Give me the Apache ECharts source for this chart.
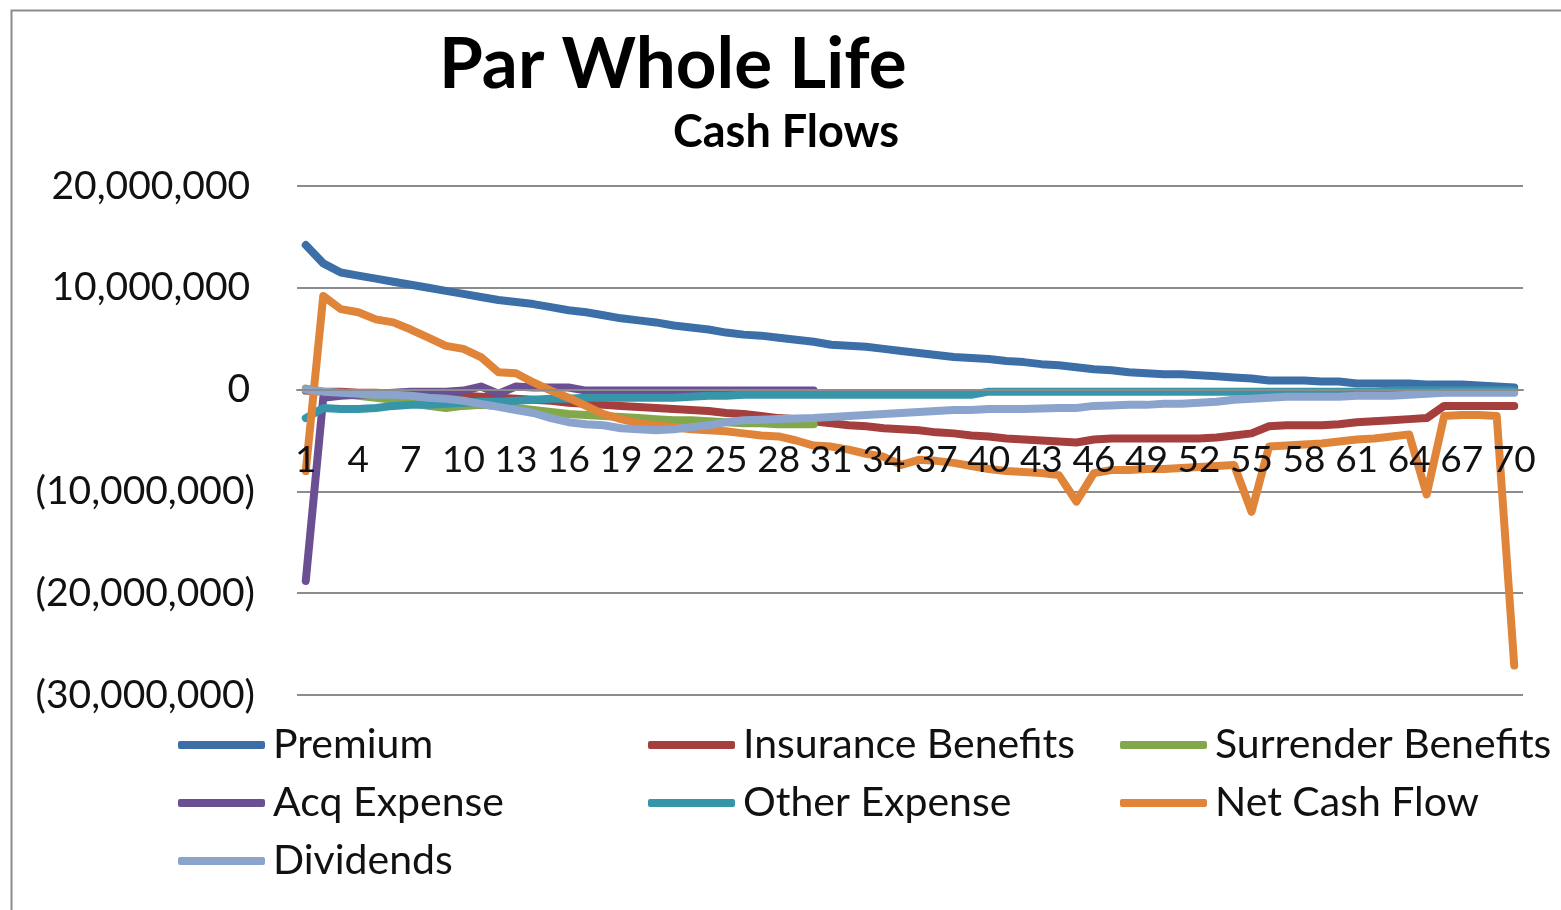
<!DOCTYPE html>
<html>
<head>
<meta charset="utf-8">
<script src="https://cdn.jsdelivr.net/npm/echarts@6/dist/echarts.min.js"></script>
<style>
html,body{margin:0;padding:0;background:#fff;}
#chart{width:1561px;height:910px;}
</style>
</head>
<body>
<div id="chart"></div>
<script>
// Values in millions
const categories = Array.from({length: 70}, (_, i) => String(i + 1));
const premium = [14.2,12.4,11.5,11.2,10.9,10.6,10.3,10.0,9.7,9.4,9.1,8.8,8.6,8.4,8.1,7.8,7.6,7.3,7.0,6.8,6.6,6.3,6.1,5.9,5.6,5.4,5.3,5.1,4.9,4.7,4.4,4.3,4.2,4.0,3.8,3.6,3.4,3.2,3.1,3.0,2.8,2.7,2.5,2.4,2.2,2.0,1.9,1.7,1.6,1.5,1.5,1.4,1.3,1.2,1.1,0.9,0.9,0.9,0.8,0.8,0.6,0.6,0.6,0.6,0.5,0.5,0.5,0.4,0.3,0.2];
const insuranceBenefits = [-0.1,-0.2,-0.2,-0.3,-0.3,-0.4,-0.4,-0.5,-0.5,-0.6,-0.7,-0.8,-0.9,-1.0,-1.1,-1.3,-1.4,-1.5,-1.6,-1.7,-1.8,-1.9,-2.0,-2.1,-2.3,-2.4,-2.6,-2.8,-2.9,-3.1,-3.3,-3.5,-3.6,-3.8,-3.9,-4.0,-4.2,-4.3,-4.5,-4.6,-4.8,-4.9,-5.0,-5.1,-5.2,-4.9,-4.8,-4.8,-4.8,-4.8,-4.8,-4.8,-4.7,-4.5,-4.3,-3.6,-3.5,-3.5,-3.5,-3.4,-3.2,-3.1,-3.0,-2.9,-2.8,-1.6,-1.6,-1.6,-1.6,-1.6];
const surrenderBenefits = [0.1,-0.2,-0.4,-0.6,-0.8,-1.0,-1.3,-1.6,-1.8,-1.6,-1.5,-1.6,-1.8,-2.0,-2.2,-2.4,-2.5,-2.6,-2.7,-2.8,-2.9,-3.0,-3.0,-3.1,-3.2,-3.3,-3.3,-3.4,-3.4,-3.4];
const acqExpense = [-18.8,-0.8,-0.6,-0.5,-0.4,-0.3,-0.2,-0.2,-0.2,-0.1,0.3,-0.4,0.3,0.2,0.2,0.2,-0.1,-0.1,-0.1,-0.1,-0.1,-0.1,-0.1,-0.1,-0.1,-0.1,-0.1,-0.1,-0.1,-0.1];
const otherExpense = [-2.8,-1.8,-1.9,-1.9,-1.8,-1.6,-1.5,-1.5,-1.4,-1.3,-1.2,-1.2,-1.1,-1.0,-0.9,-0.9,-0.8,-0.8,-0.8,-0.8,-0.8,-0.8,-0.7,-0.6,-0.6,-0.5,-0.5,-0.5,-0.5,-0.5,-0.5,-0.5,-0.5,-0.5,-0.5,-0.5,-0.5,-0.5,-0.5,-0.2,-0.2,-0.2,-0.2,-0.2,-0.2,-0.2,-0.2,-0.2,-0.2,-0.2,-0.2,-0.2,-0.2,-0.2,-0.2,-0.2,-0.2,-0.2,-0.2,-0.2,-0.2,-0.2,-0.1,-0.1,-0.1,-0.1,-0.1,-0.1,-0.1,-0.1];
const netCashFlow = [-8.0,9.2,7.9,7.6,6.9,6.6,5.9,5.1,4.3,4.0,3.2,1.7,1.6,0.7,-0.1,-0.8,-1.6,-2.4,-2.9,-3.3,-3.5,-3.7,-3.9,-4.0,-4.1,-4.3,-4.5,-4.6,-5.0,-5.5,-5.6,-5.9,-6.3,-6.6,-7.4,-6.9,-7.0,-7.2,-7.5,-7.8,-8.0,-8.1,-8.2,-8.4,-11.0,-8.2,-7.9,-7.9,-7.8,-7.8,-7.7,-7.6,-7.5,-7.4,-12.0,-5.6,-5.5,-5.4,-5.3,-5.1,-4.9,-4.8,-4.6,-4.4,-10.3,-2.6,-2.5,-2.5,-2.6,-27.1];
const dividends = [0.0,-0.2,-0.3,-0.4,-0.5,-0.5,-0.6,-0.8,-0.9,-1.1,-1.4,-1.7,-2.0,-2.3,-2.8,-3.2,-3.4,-3.5,-3.8,-3.9,-4.0,-3.9,-3.7,-3.5,-3.2,-3.0,-2.95,-2.9,-2.85,-2.8,-2.7,-2.6,-2.5,-2.4,-2.3,-2.2,-2.1,-2.0,-2.0,-1.9,-1.9,-1.9,-1.85,-1.8,-1.8,-1.6,-1.55,-1.5,-1.5,-1.4,-1.4,-1.3,-1.2,-1.0,-0.9,-0.8,-0.7,-0.7,-0.7,-0.7,-0.6,-0.6,-0.6,-0.5,-0.4,-0.3,-0.3,-0.3,-0.3,-0.3];
const yTicks = { min: -30, max: 20, interval: 10 };

const seriesNames = ['Premium','Insurance Benefits','Surrender Benefits','Acq Expense','Other Expense','Net Cash Flow','Dividends'];
const seriesData = [premium, insuranceBenefits, surrenderBenefits, acqExpense, otherExpense, netCashFlow, dividends];
const colors = ['#3c6ea8','#a43f3d','#83a84b','#6b4f93','#3795a9','#e0843a','#8ba4cd'];

const FONT = 'Lato';
const chart = echarts.init(document.getElementById('chart'), null, {renderer: 'canvas'});

function fmtY(v) {
  const s = (Math.abs(v) * 1e6).toLocaleString('en-US');
  return v < 0 ? '(' + s + ')' : s + '\u2009';
}

const GRID_TOP = 186, GRID_BOTTOM = 215, CHART_H = 910;
const plotH = CHART_H - GRID_TOP - GRID_BOTTOM;
// offset that moves the category axis from the bottom of the grid up to the zero line
const zeroOffset = -plotH * (0 - yTicks.min) / (yTicks.max - yTicks.min);

const legendBase = {
  orient: 'vertical',
  icon: 'roundRect',
  itemWidth: 87,
  itemHeight: 8,
  itemGap: 16,
  padding: 0,
  top: 724,
  textStyle: { fontFamily: FONT, fontSize: 41, color: '#111', lineHeight: 42, padding: [0,0,0,3] }
};

chart.setOption({
  animation: false,
  backgroundColor: '#fff',
  color: colors,
  title: [
    { text: 'Par Whole Life', left: 439, top: 30, padding: 0,
      textStyle: { fontFamily: FONT, fontWeight: 'bold', fontSize: 71, color: '#000' } },
    { text: 'Cash Flows', left: 673, top: 110, padding: 0,
      textStyle: { fontFamily: FONT, fontWeight: 'bold', fontSize: 45, color: '#000' } }
  ],
  graphic: [{
    type: 'rect', left: 9, top: 8, silent: true,
    shape: { x: 0, y: 0, width: 1600, height: 1000 },
    style: { fill: 'none', stroke: '#8c8c8c', lineWidth: 2 }
  }],
  legend: [
    Object.assign({}, legendBase, { left: 178, data: ['Premium','Acq Expense','Dividends'] }),
    Object.assign({}, legendBase, { left: 648, data: ['Insurance Benefits','Other Expense'] }),
    Object.assign({}, legendBase, { left: 1120, data: ['Surrender Benefits','Net Cash Flow'] })
  ],
  grid: { left: 297, right: 38, top: GRID_TOP, bottom: GRID_BOTTOM, containLabel: false },
  xAxis: {
    type: 'category',
    data: categories,
    boundaryGap: true,
    position: 'bottom',
    offset: zeroOffset,
    z: 10,
    axisLine: { onZero: false, lineStyle: { color: '#8c8c8c', width: 2 } },
    axisTick: { show: false },
    axisLabel: { interval: 2, margin: 52, fontFamily: FONT, fontSize: 37, color: '#111' },
    splitLine: { show: false }
  },
  yAxis: {
    type: 'value',
    min: yTicks.min, max: yTicks.max, interval: yTicks.interval,
    axisLine: { show: false },
    axisTick: { show: false },
    axisLabel: { formatter: fmtY, margin: 42, fontFamily: FONT, fontSize: 39, color: '#111', padding: [8,0,0,0] },
    splitLine: { lineStyle: { color: '#8c8c8c', width: 2 } }
  },
  series: seriesNames.map((name, i) => ({
    name: name,
    type: 'line',
    z: 2,
    data: seriesData[i],
    symbol: 'none',
    showSymbol: false,
    lineStyle: { width: 8, color: colors[i], cap: 'round', join: 'round' },
    itemStyle: { color: colors[i] },
    emphasis: { disabled: true }
  }))
});
</script>
</body>
</html>
